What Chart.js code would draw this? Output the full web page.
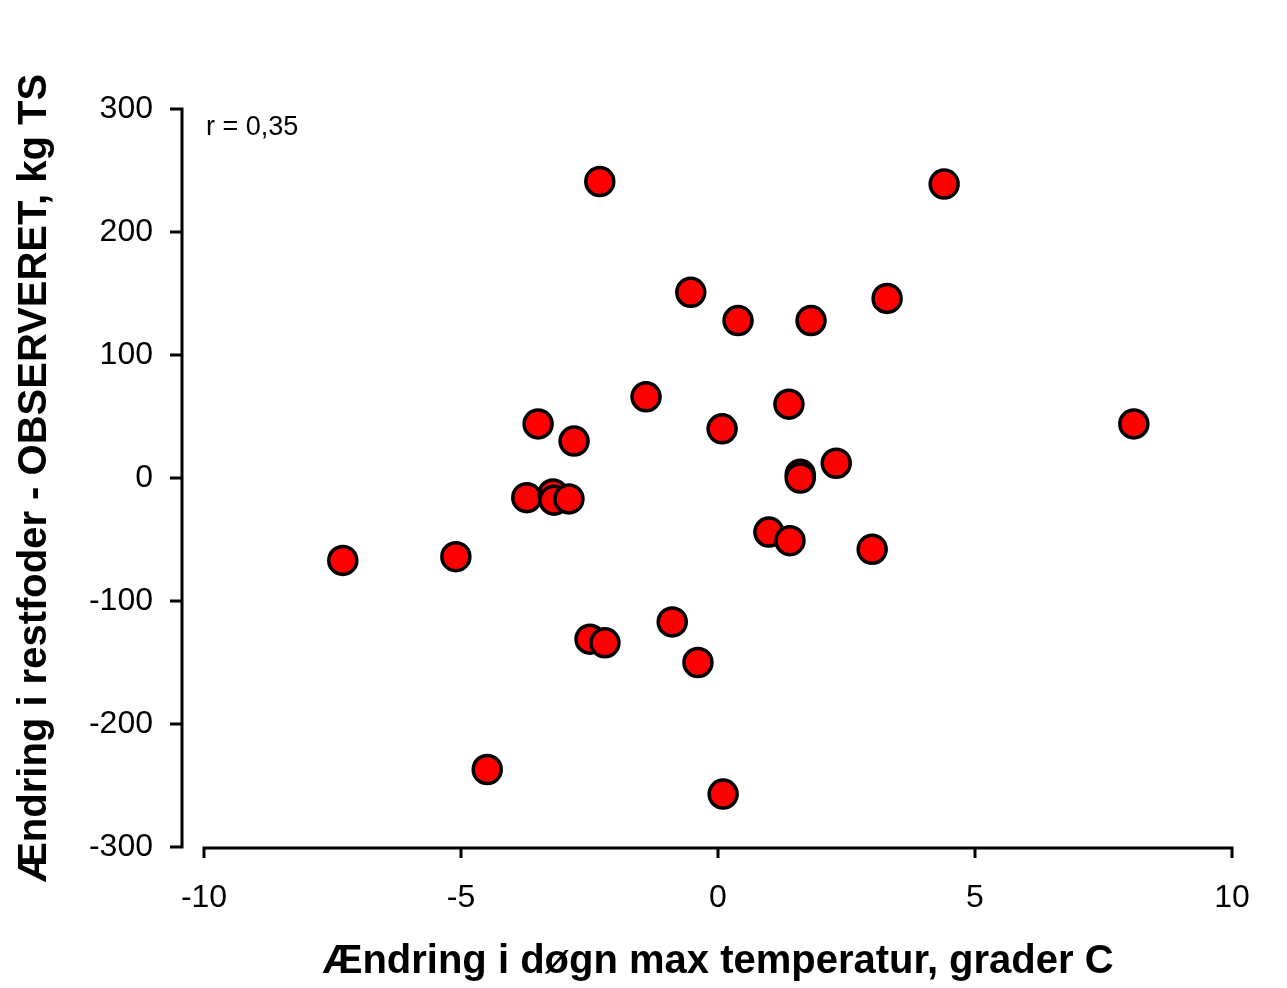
<!DOCTYPE html>
<html>
<head>
<meta charset="utf-8">
<script src="https://cdn.jsdelivr.net/npm/chart.js@4.4.1/dist/chart.umd.min.js"></script>
<style>
  html, body { margin: 0; padding: 0; background: #fff; }
  #wrap { width: 1287px; height: 988px; }
</style>
</head>
<body>
<div id="wrap"><canvas id="c" width="1287" height="988"></canvas></div>
<script>
// Change in daily max temperature (°C) vs change in leftover feed (kg DM)
const tempChange = [
  -7.30, -5.10, -4.49, -3.72, -3.50, -3.21, -3.19, -2.90, -2.80, -2.49,
  -2.30, -2.20, -1.40, -0.89, -0.53, -0.39, 0.08, 0.10, 0.39, 0.99,
  1.38, 1.40, 1.60, 1.60, 1.81, 2.30, 3.00, 3.29, 4.40, 8.09
];
const feedChange = [
  -67, -64, -237, -16, 44, -13, -18, -17, 30, -131,
  241, -134, 66, -117, 151, -150, 40, -257, 128, -44,
  60, -51, 3, 0, 128, 12, -58, 146, 239, 44
];
const xTicks = [-10, -5, 0, 5, 10];
const yTicks = [-300, -200, -100, 0, 100, 200, 300];
const corrLabel = 'r = 0,35';

const points = tempChange.map((x, i) => ({ x, y: feedChange[i] }));
const FONT = 'Liberation Sans, Arial, sans-serif';

// Draws the detached axis lines with outward tick marks and the r label
const axisLines = {
  id: 'axisLines',
  afterDraw(chart) {
    const { ctx, chartArea, scales } = chart;
    const xs = scales.x, ys = scales.y;
    const axX = 182;               // y-axis line position
    const axY = chartArea.bottom + 1;
    ctx.save();
    ctx.strokeStyle = '#000';
    ctx.lineWidth = 3;
    ctx.lineCap = 'butt';
    // y axis
    ctx.beginPath();
    ctx.moveTo(axX, ys.getPixelForValue(300) - 1.5);
    ctx.lineTo(axX, ys.getPixelForValue(-300) + 1.5);
    yTicks.forEach(v => {
      const p = ys.getPixelForValue(v);
      ctx.moveTo(axX + 1.5, p);
      ctx.lineTo(axX - 12, p);
    });
    ctx.stroke();
    // x axis
    ctx.beginPath();
    ctx.moveTo(xs.getPixelForValue(-10) - 1.5, axY);
    ctx.lineTo(xs.getPixelForValue(10) + 1.5, axY);
    xTicks.forEach(v => {
      const p = xs.getPixelForValue(v);
      ctx.moveTo(p, axY - 1.5);
      ctx.lineTo(p, axY + 10);
    });
    ctx.stroke();
    // correlation label
    ctx.fillStyle = '#000';
    ctx.font = '27px ' + FONT;
    ctx.textAlign = 'left';
    ctx.textBaseline = 'middle';
    ctx.fillText(corrLabel, 206, ys.getPixelForValue(300) + 19);
    ctx.restore();
  }
};

new Chart(document.getElementById('c'), {
  type: 'scatter',
  data: {
    datasets: [{
      data: points,
      backgroundColor: '#ff0000',
      borderColor: '#000000',
      borderWidth: 3.5,
      pointRadius: 14,
      pointHoverRadius: 14
    }]
  },
  options: {
    responsive: false,
    animation: false,
    events: [],
    clip: false,
    layout: { padding: { top: 109, right: 55, bottom: 0, left: 0 } },
    plugins: { legend: { display: false }, tooltip: { enabled: false } },
    scales: {
      x: {
        type: 'linear',
        min: -10, max: 10,
        afterBuildTicks: s => { s.ticks = xTicks.map(v => ({ value: v })); },
        afterFit: s => { s.height = 988 - 847; },
        grid: { display: false, drawTicks: false },
        border: { display: false },
        ticks: {
          color: '#000', padding: 32, maxRotation: 0,
          font: { family: FONT, size: 32 }
        },
        title: {
          display: true,
          text: 'Ændring i døgn max temperatur, grader C',
          color: '#000',
          font: { family: FONT, size: 40, weight: 'bold' },
          padding: { top: 0, bottom: 2 }
        }
      },
      y: {
        type: 'linear',
        min: -300, max: 300,
        afterBuildTicks: s => { s.ticks = yTicks.map(v => ({ value: v })); },
        afterFit: s => { s.width = 204; },
        grid: { display: false, drawTicks: false },
        border: { display: false },
        ticks: {
          color: '#000', padding: 51,
          font: { family: FONT, size: 32 }
        },
        title: {
          display: true,
          text: 'Ændring i restfoder - OBSERVERET, kg TS',
          color: '#000',
          font: { family: FONT, size: 40, weight: 'bold' },
          padding: { top: 11, bottom: 0 }
        }
      }
    }
  },
  plugins: [axisLines]
});
</script>
</body>
</html>
